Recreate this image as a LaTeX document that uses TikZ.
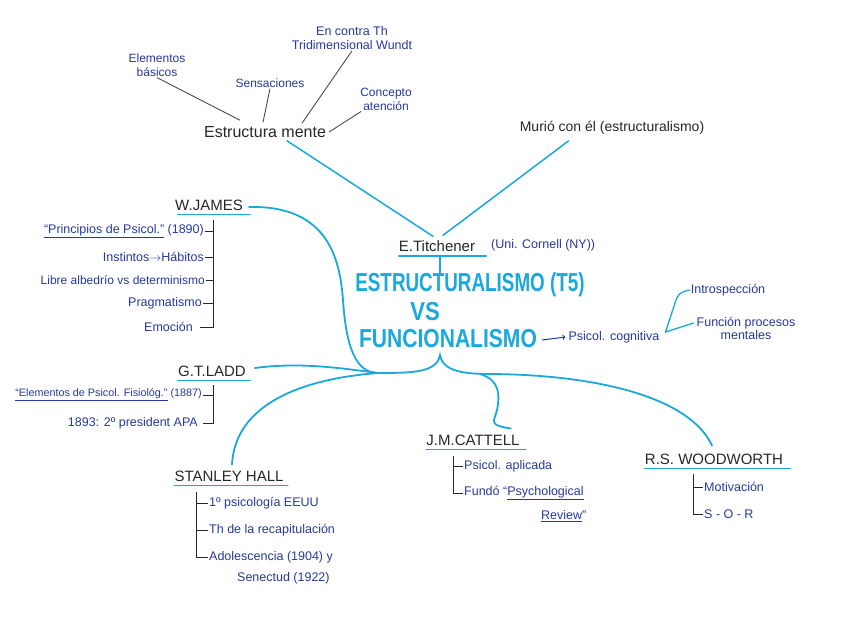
\documentclass[tikz,border=0pt]{standalone}
\usepackage{fontspec}
\setmainfont{Liberation Sans}
\usetikzlibrary{calc}
\definecolor{ink}{RGB}{40,58,155}
\definecolor{pen}{RGB}{40,40,40}
\definecolor{cy}{RGB}{27,168,220}
\definecolor{pencil}{RGB}{75,75,75}
\tikzset{
  item/.style={text=ink, font=\fontsize{12.5}{13}\selectfont, inner sep=1pt},
  small/.style={text=ink, font=\fontsize{12}{14}\selectfont, inner sep=1pt, align=center},
  head/.style={text=pen, font=\fontsize{15}{17}\selectfont, inner sep=1pt},
  ttl/.style={text=cy, font=\fontsize{26}{28}\bfseries\selectfont, inner sep=1pt},
  cyl/.style={draw=cy, line width=1.8pt, line cap=round},
  uline/.style={draw=cy, line width=1.7pt, line cap=round},
  brk/.style={draw=pen, line width=1pt},
  pl/.style={draw=pencil, line width=0.9pt},
}
\begin{document}
\begin{tikzpicture}[x=1pt,y=-1pt]
\useasboundingbox (0,0) rectangle (848,616);
\fill[white] (0,0) rectangle (848,616);

% ---------- top: Estructura mente ----------
\node[text=pen, font=\fontsize{16}{18}\selectfont, inner sep=1pt] (em) at (265,132) {Estructura mente};
\node[small] (eb) at (157,65) {Elementos\\básicos};
\node[small] (sen) at (270,83) {Sensaciones};
\node[small, font=\fontsize{12.5}{14}\selectfont] (ec) at (352,38) {En contra Th\\Tridimensional Wundt};
\node[small] (ca) at (386,99) {Concepto\\atención};
\node[text=pen, font=\fontsize{14}{16}\selectfont, inner sep=1pt] (mu) at (612,128) {Murió con él (estructuralismo)};

\draw[pl] (eb.south) -- ($(em.north)+(-25,-5)$);
\draw[pl] (sen.south) -- ($(em.north)+(-2,-3)$);
\draw[pl] (ec.south) -- ($(em.north)+(37,-2)$);
\draw[pl] ($(ca.south west)+(2,0)$) -- ($(em.east)+(2,0)$);

% ---------- Titchener ----------
\node[head] (tit) at (437,246) {E.Titchener};
\node[item, anchor=west] (cor) at (490,245) {(Uni. Cornell (NY))};
\draw[uline] ($(tit.south west)+(1,3)$) -- ($(tit.south east)+(10,3)$);
\draw[cyl, line width=1.5pt] ($(em.south)+(22,2)$) -- ($(tit.north)+(-4,-3)$);
\draw[cyl, line width=1.5pt] ($(mu.south west)+(50,5)$) -- ($(tit.north)+(6,-4)$);

% ---------- title ----------
\node[ttl] (t1) at (470,285) {\scalebox{0.725}[1]{ESTRUCTURALISMO (T5)}};
\node[ttl] (t2) at (425,312) {\scalebox{0.85}[1]{VS}};
\node[ttl] (t3) at (448,339) {\scalebox{0.81}[1]{FUNCIONALISMO}};
\draw[draw=cy, line width=1.7pt] ($(tit.south)+(3,4)$) -- ($(t1.north)+(-30,2)$);

% ---------- Psicol. cognitiva ----------
\node[item] (psi) at (614,337) {Psicol. cognitiva};
\node[item] (intro) at (728,290) {Introspección};
\node[item, align=center] (fp) at (746,328) {Función procesos\\mentales};
\draw[draw=ink, line width=1pt, ->] ($(t3.east)+(4,1)$) -- ($(psi.west)+(-2,0)$);
\draw[draw=cy, line width=1.3pt, line cap=round] (intro.west) .. controls (679,292) and (677,296) .. (675,303) -- ($(psi.east)+(5,-5)$) -- ($(fp.west)+(-2,-5)$);

% ---------- hub ----------
\coordinate (hubL) at (378,373);
\coordinate (hubR) at (492,374);
\draw[cyl] (hubL) .. controls (415,373) and (437,372) .. (440,355) .. controls (443,372) and (465,374) .. (hubR);

% ---------- W. JAMES ----------
\node[head] (james) at (209,205) {W.JAMES};
\draw[uline] ($(james.south west)+(4,3)$) -- ($(james.south east)+(6,3)$);
\draw[cyl] ($(james.east)+(5,2)$) .. controls (330,205) and (340,262) .. (343,300) .. controls (346,345) and (355,373) .. (hubL);
\node[item, anchor=east] (jp) at (205,231) {\underline{“Principios de Psicol.”} (1890)};
\node[item, anchor=east] (ji) at (205,257) {Instintos$\rightarrow$Hábitos};
\node[item, anchor=east, font=\fontsize{12}{13}\selectfont] (jl) at (206,280) {Libre albedrío vs determinismo};
\node[item, anchor=east] (jpr) at (203,303) {Pragmatismo};
\node[item, anchor=east] (jem) at (194,327) {Emoción};
\coordinate (jtop) at (213,220);
\draw[brk] (jtop) -- (jem.east -| jtop) -- ($(jem.east)+(6,0)$);
\foreach \n in {jp,ji,jl,jpr} \draw[brk] (\n.east) -- (\n.east -| jtop);

% ---------- G.T. LADD ----------
\node[head] (ladd) at (212,371) {G.T.LADD};
\draw[uline] ($(ladd.south west)+(1,3)$) -- ($(ladd.south east)+(3,3)$);
\draw[cyl] ($(ladd.east)+(8,-3)$) .. controls (300,362) and (340,368) .. (hubL);
\node[item, anchor=east, font=\fontsize{10.8}{12}\selectfont] (lp) at (203,395) {\underline{“Elementos de Psicol. Fisiológ.”} (1887)};
\node[item, anchor=east] (la) at (199,423) {1893: 2º president APA};
\coordinate (ltop) at (213,385);
\draw[brk] (ltop) -- (la.east -| ltop) -- ($(la.east)+(4,0)$);
\draw[brk] (lp.east) -- (lp.east -| ltop);

% ---------- STANLEY HALL ----------
\node[head] (hall) at (229,476) {STANLEY HALL};
\draw[uline] ($(hall.south west)+(1,3)$) -- ($(hall.south east)+(3,3)$);
\draw[cyl] ($(hall.north)+(3,-5)$) .. controls (235,405) and (300,379) .. (hubL);
\node[item, anchor=west] (h1) at (208,503) {1º psicología EEUU};
\node[item, anchor=west] (h2) at (208,530) {Th de la recapitulación};
\node[item, anchor=west] (h3) at (208,557) {Adolescencia (1904) y};
\node[item, anchor=west] (h4) at (236,578) {Senectud (1922)};
\coordinate (htop) at (196,492);
\draw[brk] (htop) -- (h3.west -| htop) -- (h3.west);
\draw[brk] (h1.west -| htop) -- (h1.west);
\draw[brk] (h2.west -| htop) -- (h2.west);

% ---------- J.M. CATTELL ----------
\node[head] (cat) at (473,440) {J.M.CATTELL};
\draw[uline] ($(cat.south west)+(1,3)$) -- ($(cat.south east)+(5,3)$);
\draw[cyl] (480,374) .. controls (500,380) and (500,395) .. (497,410) .. controls (494,422) and (488,425) .. ($(cat.north east)+(-10,-5)$);
\node[item, anchor=west] (c1) at (463,466) {Psicol. aplicada};
\node[item, anchor=west] (c2) at (463,493) {Fundó “\underline{Psychological}};
\node[item, anchor=west] (c3) at (540,516) {\underline{Review}”};
\coordinate (ctop) at (453,456);
\draw[brk] (ctop) -- (c2.west -| ctop) -- (c2.west);
\draw[brk] (c1.west -| ctop) -- (c1.west);

% ---------- R.S. WOODWORTH ----------
\node[head] (wood) at (714,459) {R.S. WOODWORTH};
\draw[uline] ($(wood.south west)+(1,3)$) -- ($(wood.south east)+(6,3)$);
\draw[cyl] (hubR) .. controls (600,375) and (690,398) .. ($(wood.north)+(-2,-7)$);
\node[item, anchor=west] (w1) at (703,487) {Motivación};
\node[item, anchor=west] (w2) at (703,514) {S - O - R};
\coordinate (wtop) at (693,474);
\draw[brk] (wtop) -- (w2.west -| wtop) -- (w2.west);
\draw[brk] (w1.west -| wtop) -- (w1.west);
\end{tikzpicture}
\end{document}
